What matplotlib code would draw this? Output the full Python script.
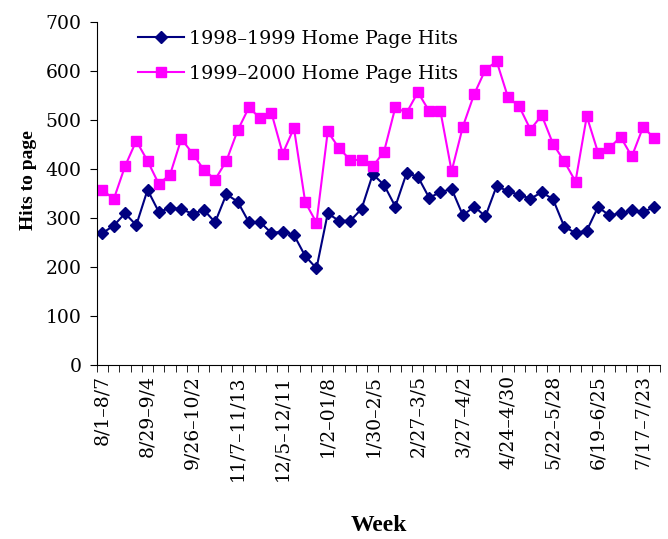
import matplotlib.pyplot as plt
import numpy as np

week_labels = ["8/1\u20138/7", "8/29\u20139/4", "9/26\u201310/2", "11/7\u201311/13",
               "12/5\u201312/11", "1/2\u201301/8", "1/30\u20132/5", "2/27\u20133/5",
               "3/27\u20134/2", "4/24\u20134/30", "5/22\u20135/28", "6/19\u20136/25",
               "7/17\u20137/23"]

hits_9899 = [270, 285, 310, 286, 358, 313, 321, 319, 309, 317,
             292, 349, 334, 292, 292, 270, 273, 266, 223, 198,
             310, 295, 295, 319, 390, 368, 324, 392, 385, 342,
             353, 360, 306, 324, 304, 366, 355, 348, 340, 353,
             339, 283, 270, 275, 323, 306, 310, 316, 313, 323]

hits_9900 = [358, 339, 406, 458, 417, 370, 389, 462, 432, 399,
             379, 417, 479, 526, 504, 515, 432, 484, 333, 291,
             477, 443, 419, 419, 406, 436, 526, 515, 557, 519,
             519, 396, 487, 553, 603, 620, 547, 528, 481, 510,
             452, 416, 375, 508, 434, 443, 466, 426, 486, 463]

plt.rcParams['font.family'] = ['DejaVu Serif', 'Liberation Serif']

fig = plt.figure(figsize=(6.68, 5.39), dpi=100)
ax = fig.add_axes([0.145, 0.322, 0.843, 0.637])

x = np.arange(1, len(hits_9899) + 1)
ax.plot(x, hits_9899, color='#000080', marker='D', markersize=6, linewidth=1.5,
        label='1998\u20131999 Home Page Hits')
ax.plot(x, hits_9900, color='#FF00FF', marker='s', markersize=7, linewidth=1.5,
        label='1999\u20132000 Home Page Hits')

ax.set_xlim(0.5, len(x) + 0.5)
ax.set_ylim(0, 700)
ax.set_yticks(range(0, 701, 100))
ax.tick_params(axis='y', labelsize=13.5, length=5, pad=6, direction='out')

ax.set_xticks(np.arange(1, len(x) + 1, 4))
ax.set_xticklabels(week_labels, rotation=90, fontsize=13.5)
ax.set_xticks(np.arange(0.5, len(x) + 1, 1), minor=True)
ax.tick_params(axis='x', which='major', length=0, pad=7)
ax.tick_params(axis='x', which='minor', length=5, direction='out')

ax.spines['top'].set_visible(False)
ax.spines['right'].set_visible(False)

ax.set_ylabel('Hits to page', fontsize=14, fontweight='bold',
              family='Liberation Serif')
ax.yaxis.set_label_coords(-0.107, 0.54)
ax.set_xlabel('Week', fontsize=17, fontweight='bold', family='Liberation Serif')
ax.xaxis.set_label_coords(0.5, -0.435)

ax.legend(loc='upper left', bbox_to_anchor=(0.073, 0.978), frameon=False,
          borderaxespad=0, borderpad=0, fontsize=13.7, labelspacing=0.9,
          handlelength=2.4, handletextpad=0.3)

fig.savefig('out.png', dpi=100)
